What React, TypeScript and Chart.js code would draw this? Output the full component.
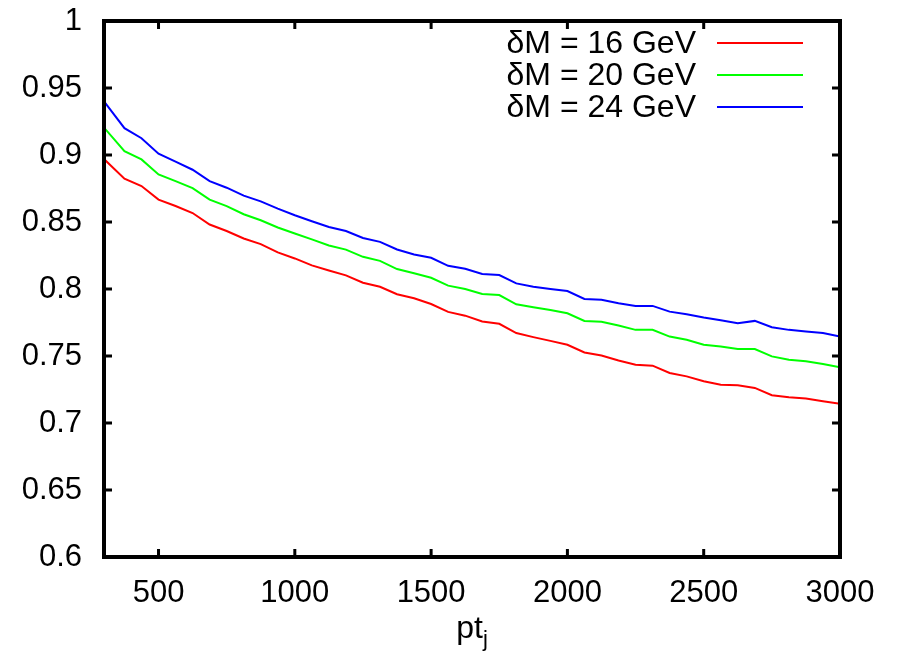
import React, { useEffect, useRef } from "react";
import { Chart, registerables } from "chart.js";

Chart.register(...registerables);

const ptValues = [
  300, 375, 437.5, 500, 562.5, 625, 687.5, 750, 812.5, 875,
  937.5, 1000, 1062.5, 1125, 1187.5, 1250, 1312.5, 1375, 1437.5, 1500,
  1562.5, 1625, 1687.5, 1750, 1812.5, 1875, 1937.5, 2000, 2062.5, 2125,
  2187.5, 2250, 2312.5, 2375, 2437.5, 2500, 2562.5, 2625, 2687.5, 2750,
  2812.5, 2875, 2937.5, 3000,
];

const dm16 = [
  0.897, 0.8823, 0.8768, 0.8667, 0.8619, 0.8567, 0.8481, 0.8433, 0.8377, 0.8335,
  0.8273, 0.8228, 0.8176, 0.8138, 0.8102, 0.8047, 0.8017, 0.7961, 0.7931, 0.7888,
  0.7829, 0.7801, 0.7757, 0.774, 0.7671, 0.7641, 0.7613, 0.7584, 0.7526, 0.7504,
  0.7467, 0.7435, 0.7428, 0.7373, 0.7348, 0.7311, 0.7286, 0.7281, 0.7262, 0.7207,
  0.7192, 0.7182, 0.7162, 0.7143,
];

const dm20 = [
  0.9205, 0.9028, 0.8967, 0.8855, 0.8805, 0.8753, 0.8667, 0.8619, 0.8558, 0.8513,
  0.8459, 0.8414, 0.837, 0.8325, 0.8294, 0.824, 0.821, 0.8149, 0.8117, 0.8084,
  0.8025, 0.8, 0.7963, 0.7955, 0.7886, 0.7864, 0.7844, 0.7819, 0.7762, 0.7755,
  0.7727, 0.7695, 0.7695, 0.7645, 0.7621, 0.7584, 0.7571, 0.7552, 0.7552, 0.7497,
  0.7472, 0.746, 0.744, 0.7415,
];

const dm24 = [
  0.94, 0.92, 0.9125, 0.901, 0.895, 0.889, 0.8805, 0.8756, 0.8697, 0.8654,
  0.86, 0.855, 0.8506, 0.8463, 0.8433, 0.8381, 0.8352, 0.8295, 0.8258, 0.8233,
  0.8173, 0.8151, 0.8112, 0.8104, 0.8042, 0.8017, 0.8, 0.7985, 0.7926, 0.792,
  0.7894, 0.7874, 0.7874, 0.7831, 0.7812, 0.7787, 0.7767, 0.7745, 0.7762, 0.7715,
  0.7695, 0.7683, 0.7671, 0.7645,
];

const seriesLabels = ["δM = 16 GeV", "δM = 20 GeV", "δM = 24 GeV"];
const seriesColors = ["#ff0000", "#00ff00", "#0000ff"];
const xTickValues = [500, 1000, 1500, 2000, 2500, 3000];
const yTickValues = [0.6, 0.65, 0.7, 0.75, 0.8, 0.85, 0.9, 0.95, 1];
const xTitleMain = "pt";
const xTitleSub = "j";

const FONT = "'Liberation Sans', Arial, Helvetica, sans-serif";

const framePlugin = {
  id: "gnuFrame",
  afterDraw(chart: any) {
    const { ctx, chartArea, scales } = chart;
    const { left, right, top, bottom } = chartArea;
    const tl = 8;
    ctx.save();
    ctx.strokeStyle = "#000";
    ctx.lineWidth = 3;
    ctx.beginPath();
    for (const v of xTickValues) {
      const px = scales.x.getPixelForValue(v);
      ctx.moveTo(px, bottom);
      ctx.lineTo(px, bottom - tl);
      ctx.moveTo(px, top);
      ctx.lineTo(px, top + tl);
    }
    for (const v of yTickValues) {
      const py = scales.y.getPixelForValue(v);
      ctx.moveTo(left, py);
      ctx.lineTo(left + tl, py);
      ctx.moveTo(right, py);
      ctx.lineTo(right - tl, py);
    }
    ctx.stroke();
    ctx.lineWidth = 4;
    ctx.strokeRect(left, top, right - left, bottom - top);

    // legend (gnuplot style: text then line sample)
    ctx.font = `32px ${FONT}`;
    ctx.textAlign = "right";
    ctx.textBaseline = "middle";
    chart.data.datasets.forEach((ds: any, i: number) => {
      const y = top + 22 + i * 32;
      ctx.fillStyle = "#000";
      ctx.fillText(ds.label, right - 144, y + 1);
      ctx.strokeStyle = ds.borderColor;
      ctx.lineWidth = 2;
      ctx.beginPath();
      ctx.moveTo(right - 123, y);
      ctx.lineTo(right - 37, y);
      ctx.stroke();
    });

    // x-axis title with subscript
    ctx.fillStyle = "#000";
    ctx.textBaseline = "alphabetic";
    ctx.textAlign = "left";
    ctx.font = `32px ${FONT}`;
    const wMain = ctx.measureText(xTitleMain).width;
    ctx.font = `22px ${FONT}`;
    const wSub = ctx.measureText(xTitleSub).width;
    const cx = (left + right) / 2;
    const x0 = cx - (wMain + wSub) / 2;
    const baseY = bottom + 81;
    ctx.font = `32px ${FONT}`;
    ctx.fillText(xTitleMain, x0, baseY);
    ctx.font = `22px ${FONT}`;
    ctx.fillText(xTitleSub, x0 + wMain, baseY + 8);
    ctx.restore();
  },
};

export default function App() {
  const canvasRef = useRef<HTMLCanvasElement | null>(null);

  useEffect(() => {
    if (!canvasRef.current) return;
    const mk = (vals: number[]) => ptValues.map((x, i) => ({ x, y: vals[i] }));
    const chart = new Chart(canvasRef.current, {
      type: "line",
      data: {
        datasets: [dm16, dm20, dm24].map((vals, i) => ({
          label: seriesLabels[i],
          data: mk(vals),
          borderColor: seriesColors[i],
          backgroundColor: seriesColors[i],
          borderWidth: 2,
          pointRadius: 0,
          tension: 0,
          fill: false,
        })),
      },
      options: {
        responsive: false,
        animation: false,
        events: [],
        layout: { padding: { left: 0, right: 64, top: 21, bottom: 0 } },
        plugins: {
          legend: { display: false },
          tooltip: { enabled: false },
          title: { display: false },
        },
        scales: {
          x: {
            type: "linear",
            min: 300,
            max: 3000,
            grid: { display: false, drawTicks: false },
            border: { display: false },
            afterBuildTicks: (scale: any) => {
              scale.ticks = xTickValues.map((v) => ({ value: v }));
            },
            afterFit: (scale: any) => {
              scale.height = 102;
              scale.paddingLeft = 0;
              scale.paddingRight = 0;
            },
            ticks: {
              padding: 18,
              color: "#000",
              font: { family: FONT, size: 31 },
              maxRotation: 0,
              autoSkip: false,
              callback: (v: any) => String(v),
            },
          },
          y: {
            type: "linear",
            min: 0.6,
            max: 1,
            grid: { display: false, drawTicks: false },
            border: { display: false },
            afterBuildTicks: (scale: any) => {
              scale.ticks = yTickValues.map((v) => ({ value: v }));
            },
            afterFit: (scale: any) => {
              scale.width = 104;
              scale.paddingTop = 0;
              scale.paddingBottom = 0;
            },
            ticks: {
              padding: 22,
              color: "#000",
              font: { family: FONT, size: 31 },
              autoSkip: false,
              callback: (v: any) => String(Number(Number(v).toFixed(2))),
            },
          },
        },
      },
      plugins: [framePlugin],
    });
    return () => chart.destroy();
  }, []);

  return (
    <div style={{ position: "absolute", left: 0, top: 0, width: 904, height: 659, background: "#fff" }}>
      <canvas ref={canvasRef} width={904} height={659} style={{ display: "block" }} />
    </div>
  );
}
